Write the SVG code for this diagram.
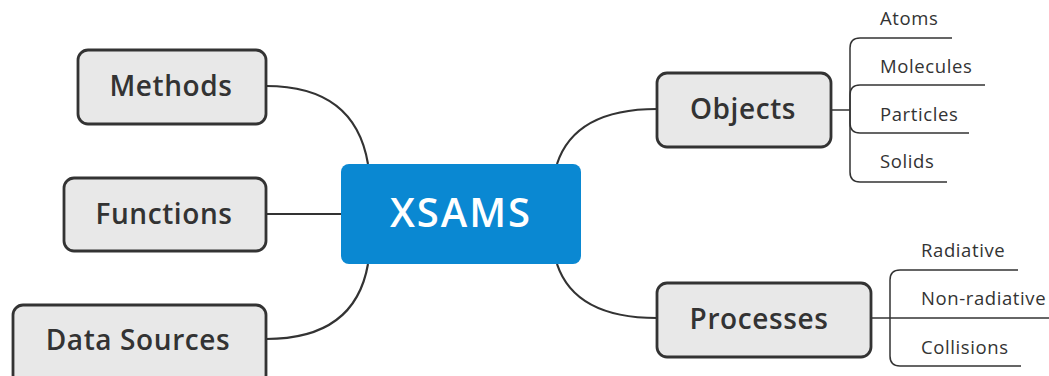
<svg xmlns="http://www.w3.org/2000/svg" width="1049" height="376" viewBox="0 0 1049 376">
<style>
.box{fill:#e8e8e8;stroke:#333;stroke-width:2.8}
.lbl{font-family:"Open Sans","DejaVu Sans",sans-serif;font-weight:600;font-size:28px;fill:#333;letter-spacing:0.6px}
.sub{font-family:"Open Sans","DejaVu Sans",sans-serif;font-size:18.5px;fill:#333;letter-spacing:0.6px}
.con{fill:none;stroke:#333;stroke-width:2.2}
.br{fill:none;stroke:#333;stroke-width:1.5}
</style>
<rect width="1049" height="376" fill="#fff"/>
<g id="connectors">
<path class="con" d="M266,86 Q355,86 368,164"/>
<path class="con" d="M266,214 H341"/>
<path class="con" d="M266,339 Q355,339 368,264"/>
<path class="con" d="M557,164 Q575,109 657,109"/>
<path class="con" d="M557,264 Q575,318 657,318"/>
<path class="br" d="M831,110 H850"/>
<path class="br" d="M850,110 V48 Q850,38 860,38 H952"/>
<path class="br" d="M850,110 V95 Q850,85 860,85 H985"/>
<path class="br" d="M850,110 V123 Q850,133 860,133 H969"/>
<path class="br" d="M850,110 V172 Q850,182 860,182 H947"/>
<path class="br" d="M871,318 H1049"/>
<path class="br" d="M890,318 V280 Q890,270 900,270 H1018"/>
<path class="br" d="M890,318 V356 Q890,366 900,366 H1021"/>
</g>
<g id="xsams">
<rect x="341" y="164" width="240" height="100" rx="8" fill="#0a88d2"/>
<text x="461" y="227" text-anchor="middle" font-family="'Open Sans','DejaVu Sans',sans-serif" font-size="40" font-weight="600" fill="#fff" letter-spacing="2">XSAMS</text>
</g>
<g id="methods">
<rect class="box" x="78" y="50" width="188" height="74" rx="10"/>
<text class="lbl" x="171" y="96" text-anchor="middle">Methods</text>
</g>
<g id="functions">
<rect class="box" x="64" y="178" width="202" height="73" rx="10"/>
<text class="lbl" x="164" y="224" text-anchor="middle">Functions</text>
</g>
<g id="datasources">
<rect class="box" x="13" y="305" width="253" height="80" rx="10"/>
<text class="lbl" x="138" y="350" text-anchor="middle">Data Sources</text>
</g>
<g id="objects">
<rect class="box" x="657" y="73" width="174" height="74" rx="10"/>
<text class="lbl" x="743" y="119" text-anchor="middle">Objects</text>
</g>
<g id="processes">
<rect class="box" x="657" y="283" width="214" height="74" rx="10"/>
<text class="lbl" x="759" y="329" text-anchor="middle">Processes</text>
</g>
<g id="atoms"><text class="sub" x="880" y="25">Atoms</text></g>
<g id="molecules"><text class="sub" x="880" y="73">Molecules</text></g>
<g id="particles"><text class="sub" x="880" y="121">Particles</text></g>
<g id="solids"><text class="sub" x="880" y="168">Solids</text></g>
<g id="radiative"><text class="sub" x="921" y="257">Radiative</text></g>
<g id="nonradiative"><text class="sub" x="921" y="305">Non-radiative</text></g>
<g id="collisions"><text class="sub" x="921" y="354">Collisions</text></g>
</svg>
